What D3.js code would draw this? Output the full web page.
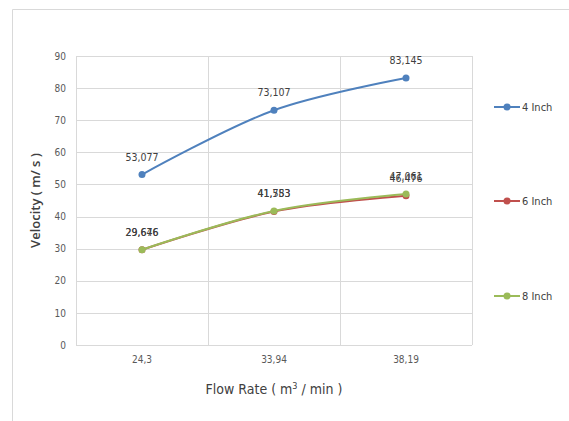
<!DOCTYPE html>
<html>
<head>
<meta charset="utf-8">
<script src="https://cdn.jsdelivr.net/npm/d3@7"></script>
<style>
  body { margin: 0; background: #fff; }
  svg { display: block; }
  text { font-family: "DejaVu Sans Condensed", "Liberation Sans Narrow", "Liberation Sans", sans-serif; font-stretch: condensed; }
</style>
</head>
<body>
<svg id="chart" width="569" height="421"></svg>
<script>
// Flow rate categories (m³/min) and velocity per pipe diameter (m/s)
const categories = ["24,3", "33,94", "38,19"];
const seriesNames = ["4 Inch", "6 Inch", "8 Inch"];
const velocity4 = [53.077, 73.107, 83.145];
const velocity6 = [29.646, 41.583, 46.476];
const velocity8 = [29.676, 41.753, 47.061];
const yTicks = [0, 10, 20, 30, 40, 50, 60, 70, 80, 90];
const colors = ["#4F81BD", "#C0504D", "#9BBB59"];

const series = seriesNames.map((name, i) => ({
  name,
  values: [velocity4, velocity6, velocity8][i],
  color: colors[i]
}));

const svg = d3.select("#chart");
const margin = { left: 76, right: 97, top: 56, bottom: 76 };
const W = 569, H = 421;

// chart area border
svg.append("path")
  .attr("d", `M12.5,${H} V9.5 H${W}`)
  .attr("fill", "none").attr("stroke", "#d9d9d9").attr("stroke-width", 1);

const x = d3.scaleBand().domain(categories)
  .range([margin.left, W - margin.right]).paddingInner(0).paddingOuter(0);
const y = d3.scaleLinear().domain([0, 90]).range([H - margin.bottom, margin.top]);
const cx = c => x(c) + x.bandwidth() / 2;

const grid = svg.append("g");
// horizontal gridlines
grid.selectAll("line.h").data(yTicks).join("line")
  .attr("x1", margin.left).attr("x2", W - margin.right)
  .attr("y1", d => Math.round(y(d)) + 0.5).attr("y2", d => Math.round(y(d)) + 0.5)
  .attr("stroke", "#d9d9d9");
// vertical gridlines at category boundaries
const bounds = categories.map(c => x(c)).concat([x(categories[categories.length - 1]) + x.bandwidth()]);
grid.selectAll("line.v").data(bounds).join("line")
  .attr("x1", d => Math.round(d) + 0.5).attr("x2", d => Math.round(d) + 0.5)
  .attr("y1", margin.top).attr("y2", H - margin.bottom)
  .attr("stroke", "#d9d9d9");

// y axis tick labels
const yAxis = svg.append("g")
  .attr("transform", `translate(${margin.left},0)`)
  .call(d3.axisLeft(y).tickValues(yTicks).tickSize(0).tickPadding(10));
yAxis.select(".domain").remove();
yAxis.selectAll("text").attr("fill", "#595959").attr("font-size", 10)
  .style("font-family", "'DejaVu Sans Condensed', sans-serif");

// x axis tick labels
const xAxis = svg.append("g")
  .attr("transform", `translate(0,${H - margin.bottom})`)
  .call(d3.axisBottom(x).tickSize(0).tickPadding(11));
xAxis.select(".domain").remove();
xAxis.selectAll("text").attr("fill", "#595959").attr("font-size", 10)
  .style("font-family", "'DejaVu Sans Condensed', sans-serif");

// axis titles
svg.append("text")
  .attr("transform", `translate(40,${(margin.top + H - margin.bottom) / 2}) rotate(-90)`)
  .attr("text-anchor", "middle")
  .style("font-family", "'Open Sans', 'Liberation Sans', sans-serif")
  .style("font-stretch", "normal")
  .attr("font-size", 13).attr("font-weight", 600).attr("fill", "#404040")
  .text("Velocity ( m/ s )");

const xt = svg.append("text")
  .attr("x", (margin.left + W - margin.right) / 2).attr("y", 394)
  .attr("text-anchor", "middle").attr("font-size", 14).attr("fill", "#404040")
  .style("font-family", "'Liberation Sans Narrow', 'DejaVu Sans Condensed', sans-serif");
xt.append("tspan").text("Flow Rate ( m");
xt.append("tspan").attr("dy", -5).attr("font-size", 9).text("3");
xt.append("tspan").attr("dy", 5).text(" / min )");

// lines, markers, labels
const line = d3.line()
  .x((d, i) => cx(categories[i]))
  .y(d => y(d))
  .curve(d3.curveCatmullRom.alpha(0.5));

const fmt = v => d3.format(".3f")(v).replace(".", ",");

series.forEach(s => {
  svg.append("path").datum(s.values)
    .attr("d", line).attr("fill", "none")
    .attr("stroke", s.color).attr("stroke-width", 2);
  svg.append("g").selectAll("circle").data(s.values).join("circle")
    .attr("cx", (d, i) => cx(categories[i])).attr("cy", d => y(d))
    .attr("r", 3.5).attr("fill", s.color);
});
series.forEach(s => {
  svg.append("g").selectAll("text").data(s.values).join("text")
    .attr("x", (d, i) => cx(categories[i])).attr("y", d => y(d) - 14)
    .attr("text-anchor", "middle").attr("font-size", 10.5).attr("fill", "#404040")
    .text(d => fmt(d));
});

// legend
const legendY = [107, 201, 296];
series.forEach((s, i) => {
  const g = svg.append("g").attr("transform", `translate(494,${legendY[i]})`);
  g.append("line").attr("x1", 0).attr("x2", 26).attr("stroke", s.color).attr("stroke-width", 2);
  g.append("circle").attr("cx", 13).attr("r", 3.5).attr("fill", s.color);
  g.append("text").attr("x", 28).attr("dy", "0.35em")
    .attr("font-size", 11).attr("fill", "#404040").text(s.name);
});
</script>
</body>
</html>
